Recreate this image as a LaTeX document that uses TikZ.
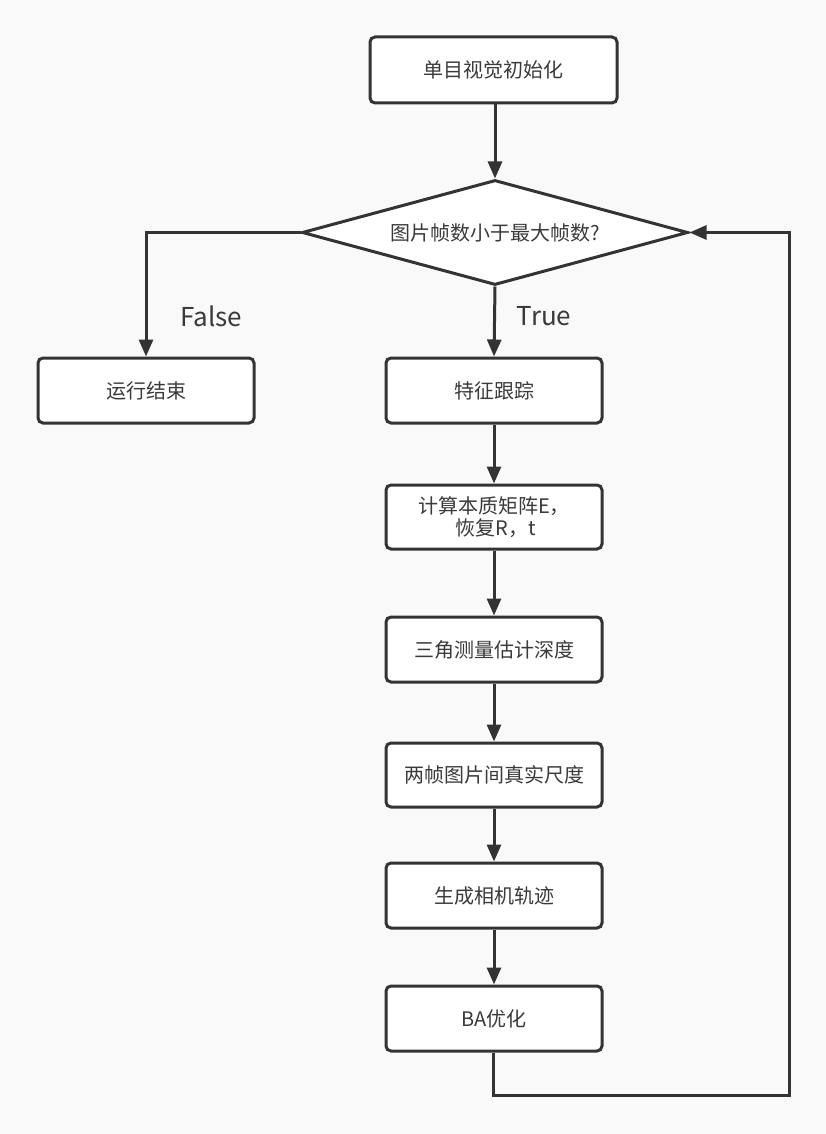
\documentclass[tikz,border=0pt]{standalone}
\usepackage{fontspec}
\setmainfont{Noto Sans CJK SC}
\usetikzlibrary{shapes.geometric,arrows.meta}
\definecolor{bg}{HTML}{F9F9F9}
\definecolor{ln}{HTML}{333333}
\definecolor{tx}{HTML}{3A3A3A}
\tikzset{
  procbox/.style={draw=ln, line width=3pt, fill=white, rounded corners=5pt,
    minimum width=216pt, minimum height=65pt, inner sep=0pt, align=center,
    font=\fontsize{20pt}{24pt}\selectfont, text=tx},
  decbox/.style={draw=ln, line width=3pt, fill=white, diamond, aspect=3.68,
    minimum width=386pt, minimum height=105pt, inner sep=0pt,
    font=\fontsize{20pt}{24pt}\selectfont, text=tx},
  flow/.style={draw=ln, line width=3pt, -{Triangle[length=17pt,width=14pt]}},
  lbl/.style={font=\fontsize{26pt}{30pt}\selectfont, text=tx},
}
\begin{document}
\begin{tikzpicture}[x=1pt,y=-1pt]
\useasboundingbox (0,0) rectangle (826,1134);
\fill[bg] (0,0) rectangle (826,1134);
\node[procbox, minimum width=247pt, minimum height=66pt] (init) at (493.5,70) {单目视觉初始化};
\node[decbox] (dec) at (495,232.5) {图片帧数小于最大帧数?};
\node[procbox] (endn) at (146,390.5) {运行结束};
\node[procbox] (track) at (494,390.5) {特征跟踪};
\node[procbox, minimum height=64pt] (ess) at (494,517) {计算本质矩阵E，\\[-2pt]\hspace*{4pt}恢复R，t};
\node[procbox] (tri) at (494,649.5) {三角测量估计深度};
\node[procbox, minimum height=64pt] (scale) at (494,775) {两帧图片间真实尺度};
\node[procbox] (traj) at (494,895.5) {生成相机轨迹};
\node[procbox] (ba) at (494,1018.5) {BA优化};
\coordinate (c1) at (493,1095);
\coordinate (c2) at (789,1095);
\coordinate (c3) at (789,232.5);
\draw[flow] (init.south -| dec.north) -- (dec.north);
\draw[flow] (dec.west) -| (endn.north);
\draw[flow] (dec.south) -- (track.north);
\draw[flow] (track) -- (ess);
\draw[flow] (ess) -- (tri);
\draw[flow] (tri) -- (scale);
\draw[flow] (scale) -- (traj);
\draw[flow] (traj) -- (ba);
\draw[flow] (ba.south -| c1) -- (c1) -- (c2) -- (c3) -- (dec.east);
\node[lbl] (lf) at (211,316) {False};
\node[lbl] (lt) at (544,316) {True};
\end{tikzpicture}
\end{document}
